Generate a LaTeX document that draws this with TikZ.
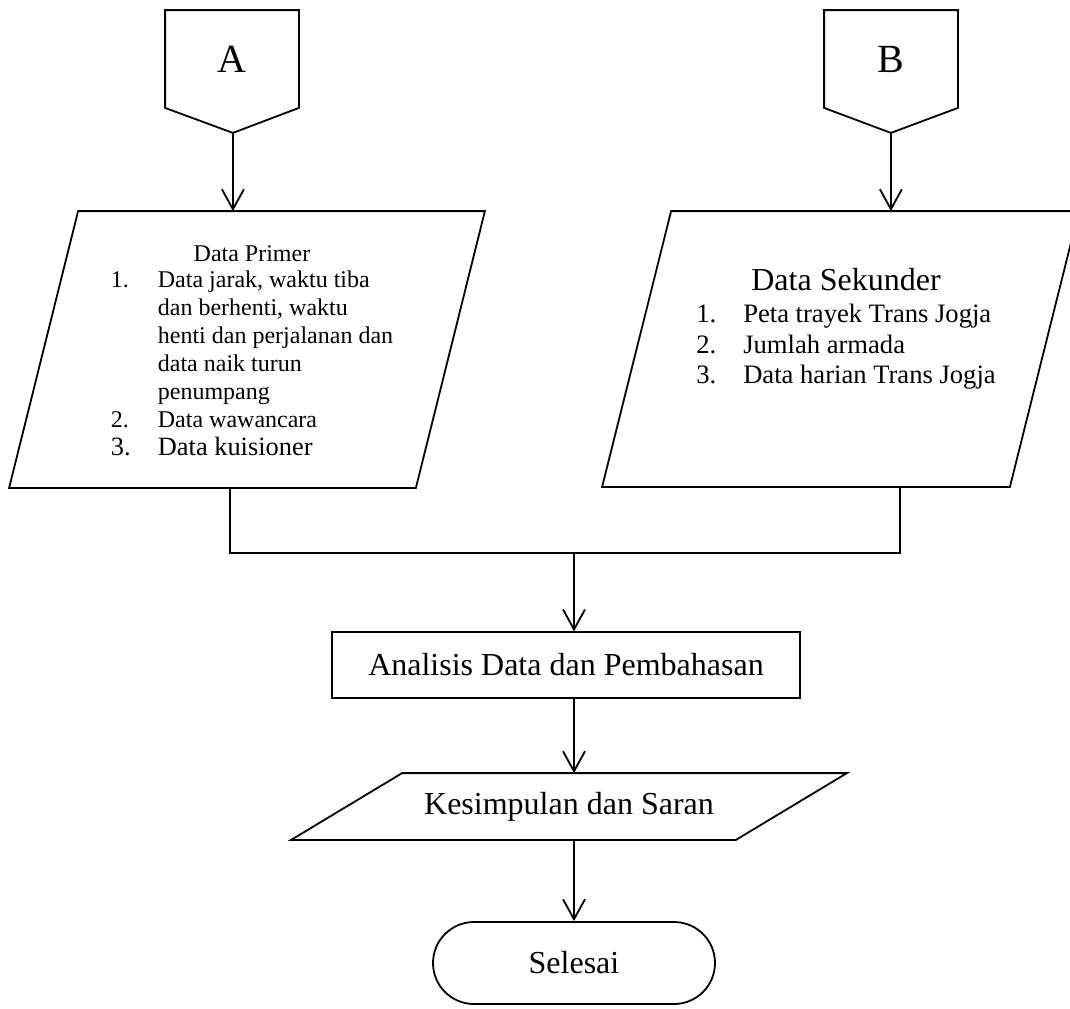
\documentclass[tikz,border=0pt]{standalone}
\usepackage{fontspec}
\setmainfont{Liberation Serif}
\usetikzlibrary{arrows.meta,shapes.misc}
\newcommand{\fs}[2]{\fontsize{#1}{#2}\selectfont}
\begin{document}
\begin{tikzpicture}[x=0.5pt, y=-0.5pt, line width=0.9pt,
  arr/.style={-{Straight Barb[length=10pt,width=11pt]}},
  io/.style={rectangle, inner sep=0pt, append after command={\pgfextra{%
    \draw ([xshift=#1]\tikzlastnode.north west) -- (\tikzlastnode.north east)
      -- ([xshift=-#1]\tikzlastnode.south east) -- (\tikzlastnode.south west) -- cycle;}}},
  proc/.style={draw, rectangle, inner sep=0pt, line width=0.7pt},
  term/.style={draw, rounded rectangle, inner sep=0pt},
  off/.style={rectangle, inner sep=0pt, minimum width=66pt, minimum height=48pt, font=\fs{20}{24}},
  txt/.style={anchor=base, inner sep=0pt}]
\useasboundingbox (0,0) rectangle (1070,1008);
\clip (0,0) rectangle (1070,1008);
% konektor A dan B
\node[off] (A) at (232,59) {A};
\node[off] (B) at (891,59) {B};
\draw (A.north west) -- (A.north east) -- (A.south east) -- ++(-66,25) coordinate (Atip) -- (A.south west) -- cycle;
\draw (B.north west) -- (B.north east) -- (B.south east) -- ++(-67,25) coordinate (Btip) -- (B.south west) -- cycle;
% data primer dan sekunder
\node[io=34.5pt, minimum width=237pt, minimum height=137.5pt] (prim) at (247,349.5) {};
\node[io=34.5pt, minimum width=237.5pt, minimum height=137pt] (sek) at (840.5,349) {};
\node[txt, font=\fs{12}{14}] (primtxt) at (252,261) {%
  \begin{tabular}[t]{@{}p{23.5pt}@{}l@{}}
  \multicolumn{2}{c}{Data Primer}\\[-1pt]
  1. & Data jarak, waktu tiba\\
     & dan berhenti, waktu\\
     & henti dan perjalanan dan\\
     & data naik turun\\
     & penumpang\\
  2. & Data wawancara\\
  \fs{13.2}{15}3. & \fs{13.2}{15}Data kuisioner
  \end{tabular}};
\node[txt, font=\fs{13.3}{15.3}] (sektxt) at (846,290) {%
  \begin{tabular}[t]{@{}p{23.5pt}@{}l@{}}
  \multicolumn{2}{c}{\fs{16}{19}Data Sekunder}\\[1pt]
  1. & Peta trayek Trans Jogja\\
  2. & Jumlah armada\\
  3. & Data harian Trans Jogja
  \end{tabular}};
\draw[arr] (Atip) -- (Atip |- prim.north);
\draw[arr] (Btip) -- (Btip |- sek.north);
% proses
\node[proc, minimum width=234pt, minimum height=33pt, font=\fs{16}{19}] (ana) at (566,665) {Analisis Data dan Pembahasan};
\node[io=55.5pt, minimum width=277pt, minimum height=32.5pt, font=\fs{16}{19}] (kes) at (569,806.5) {Kesimpulan dan Saran};
\node[term, minimum width=141pt, minimum height=41pt, font=\fs{16}{19}] (sel) at (574,963) {Selesai};
\coordinate (jl) at (230,553);
\coordinate (jr) at (900,553);
\coordinate (join) at (574,553);
\draw (jl |- prim.south) -- (jl) -- (jr) -- (jr |- sek.south);
\draw[arr] (join) -- (join |- ana.north);
\draw[arr] (ana.south -| join) -- (kes.north -| join);
\draw[arr] (kes.south -| join) -- (sel.north -| join);
\end{tikzpicture}
\end{document}
